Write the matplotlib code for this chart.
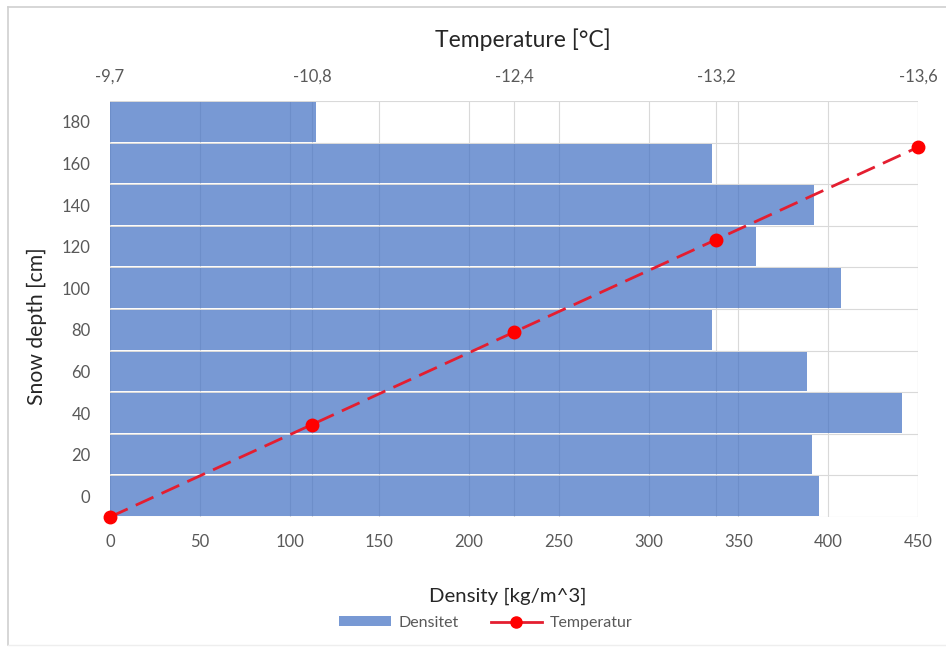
import matplotlib
matplotlib.use("Agg")
import matplotlib.pyplot as plt
from matplotlib.lines import Line2D
from matplotlib.patches import Patch

plt.rcParams['font.family'] = ['Lato', 'DejaVu Sans']

# Density profile (bars)
depths = [0, 20, 40, 60, 80, 100, 120, 140, 160, 180]
density = [395, 391, 441, 388, 335, 407, 360, 392, 335, 115]

# Temperature profile (line on secondary axes)
temp_labels = ["-9,7", "-10,8", "-12,4", "-13,2", "-13,6"]
temp_depths = [0, 40, 80, 120, 160]

W, H = 946, 648
fig = plt.figure(figsize=(W / 100, H / 100), dpi=100)

left, right, top, bottom = 110, 918, 101, 517
pos = [left / W, 1 - bottom / H, (right - left) / W, (bottom - top) / H]

grid_c = "#D9D9D9"
tick_c = "#595959"
title_c = "#262626"
line_c = "#E41E30"

ax = fig.add_axes(pos)
ax.set_xlim(0, 450)
ax.set_ylim(-0.5, len(depths) - 0.5)
for s in ax.spines.values():
    s.set_visible(False)

# gridlines: primary density ticks, category boundaries
xt = list(range(0, 451, 50))
for x in xt:
    ax.axvline(x, color=grid_c, lw=0.8, zorder=0)
for k in range(len(depths) + 1):
    ax.axhline(k - 0.5, color=grid_c, lw=0.8, zorder=0)
# gridlines from the secondary temperature axis
for i in range(len(temp_labels)):
    ax.add_line(Line2D([i / (len(temp_labels) - 1)] * 2, [0, 1],
                       transform=ax.transAxes, color=grid_c, lw=0.8, zorder=0))

ax.barh(range(len(depths)), density, height=0.95, color="#4472C4",
        alpha=0.72, zorder=2, linewidth=0)

ax.set_xticks(xt)
ax.set_yticks(range(len(depths)))
ax.set_yticklabels([str(d) for d in depths])
ax.tick_params(axis='both', length=0, labelsize=12, labelcolor=tick_c)
ax.tick_params(axis='x', pad=12)
ax.tick_params(axis='y', pad=14)

# secondary axes for temperature
ax2 = fig.add_axes(pos, frameon=False)
ax2.set_xlim(0, len(temp_labels) - 1)
ax2.set_ylim(0, 180)
ax2.patch.set_alpha(0)
ax2.plot(range(len(temp_labels)), temp_depths, color=line_c, lw=2,
         dashes=(7, 3.2), marker='o', markersize=9, markerfacecolor="#FF0000",
         markeredgecolor="#FF0000", zorder=5, clip_on=False)
ax2.xaxis.tick_top()
ax2.set_xticks(range(len(temp_labels)))
ax2.set_xticklabels(temp_labels)
ax2.set_yticks([])
ax2.tick_params(axis='x', length=0, labelsize=12, labelcolor=tick_c, pad=12)

fig.text(523 / W, 1 - 40 / H, "Temperature [°C]", ha='center', va='center',
         fontsize=16.5, color=title_c)
fig.text(508 / W, 1 - 596 / H, "Density [kg/m^3]", ha='center', va='center',
         fontsize=14.7, color=title_c)
fig.text(37 / W, 1 - 326 / H, "Snow depth [cm]", ha='center', va='center',
         rotation=90, fontsize=15.2, color=title_c)

handles = [Patch(facecolor="#4472C4", alpha=0.72, edgecolor='none'),
           Line2D([], [], color=line_c, lw=2, marker='o', markersize=8,
                  markerfacecolor="#FF0000", markeredgecolor="#FF0000")]
fig.legend(handles, ["Densitet", "Temperatur"], loc='center',
           bbox_to_anchor=(486 / W, 1 - 623 / H), ncol=2, frameon=False,
           fontsize=11.5, labelcolor=tick_c, handlelength=3.2,
           handleheight=0.6, columnspacing=2.0, handletextpad=0.5)

# outer chart frame
fig.add_artist(Line2D([8 / W, 1], [1 - 7 / H] * 2, color="#D0D0D0", lw=1.2))
fig.add_artist(Line2D([8 / W] * 2, [1 - 7 / H, 1 - 645 / H], color="#D0D0D0", lw=1.2))
fig.add_artist(Line2D([8 / W, 1], [1 - 645 / H] * 2, color="#EEEEEE", lw=1))

fig.savefig("out.png", dpi=100, facecolor='white')
